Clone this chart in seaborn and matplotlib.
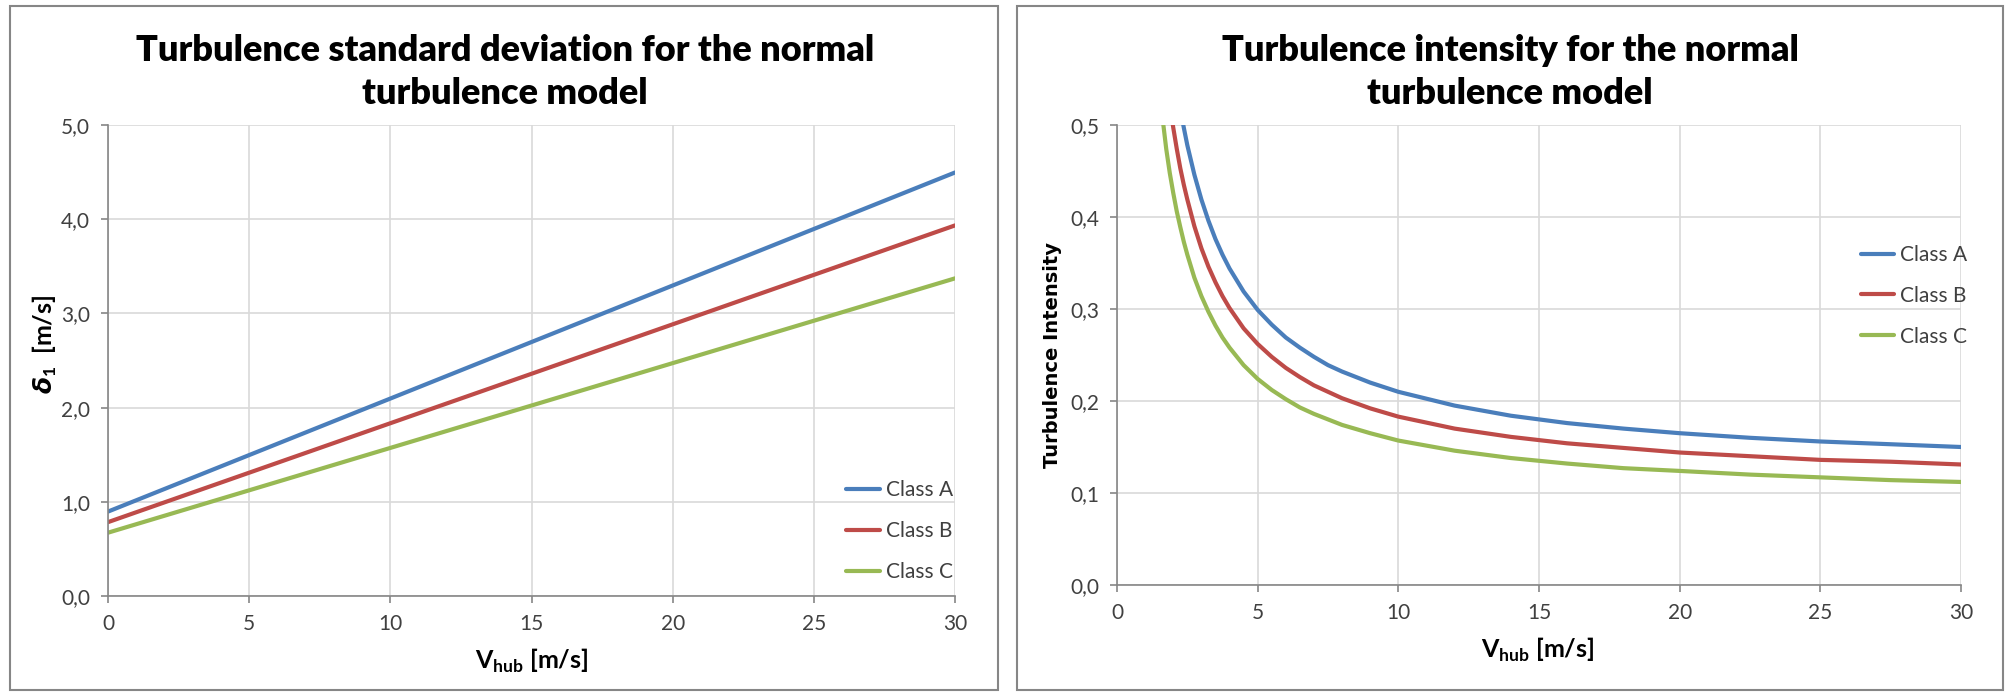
import numpy as np
import pandas as pd
import matplotlib
matplotlib.use("Agg")
import matplotlib.pyplot as plt
import matplotlib.ticker as mticker
from matplotlib.patches import Rectangle
from matplotlib.lines import Line2D
import seaborn as sns

# ─── data ─────────────────────────────────────────────────────────────────────
CLASSES = ["Class A", "Class B", "Class C"]

V_STD = [0, 5, 10, 15, 20, 25, 30]
STD_A = [0.896, 1.496, 2.096, 2.696, 3.296, 3.896, 4.496]
STD_B = [0.784, 1.309, 1.834, 2.359, 2.884, 3.409, 3.934]
STD_C = [0.672, 1.122, 1.572, 2.022, 2.472, 2.922, 3.372]

V_TI = [1.5, 1.75, 1.875, 2, 2.125, 2.25, 2.375, 2.5, 2.75, 3, 3.25, 3.5, 3.75,
        4, 4.5, 5, 5.5, 6, 6.5, 7, 7.5, 8, 9, 10,
        12, 14, 16, 18, 20, 22.5, 25, 27.5, 30]
TI_A = [0.717, 0.632, 0.598, 0.568, 0.542, 0.518, 0.497, 0.478, 0.446, 0.419,
        0.396, 0.376, 0.359, 0.344, 0.319, 0.299, 0.283, 0.269, 0.258, 0.248,
        0.239, 0.232, 0.220, 0.210, 0.195, 0.184, 0.176, 0.170, 0.165, 0.160,
        0.156, 0.153, 0.150]
TI_B = [0.628, 0.553, 0.523, 0.497, 0.474, 0.453, 0.435, 0.419, 0.390, 0.366,
        0.346, 0.329, 0.314, 0.301, 0.279, 0.262, 0.248, 0.236, 0.226, 0.217,
        0.210, 0.203, 0.192, 0.183, 0.170, 0.161, 0.154, 0.149, 0.144, 0.140,
        0.136, 0.134, 0.131]
TI_C = [0.538, 0.474, 0.448, 0.426, 0.406, 0.389, 0.373, 0.359, 0.334, 0.314,
        0.297, 0.282, 0.269, 0.258, 0.239, 0.224, 0.212, 0.202, 0.193, 0.186,
        0.180, 0.174, 0.165, 0.157, 0.146, 0.138, 0.132, 0.127, 0.124, 0.120,
        0.117, 0.114, 0.112]

X_TICKS = [0, 5, 10, 15, 20, 25, 30]
STD_TICKS = [0.0, 1.0, 2.0, 3.0, 4.0, 5.0]
TI_TICKS = [0.0, 0.1, 0.2, 0.3, 0.4, 0.5]

COLORS = ["#4a7ebb", "#be4b48", "#98b954"]
GRID = "#d9d9d9"
SPINE = "#868686"
TEXT = "#404040"

sns.set_theme(style="white")
plt.rcParams["font.family"] = ["Lato", "DejaVu Sans"]
plt.rcParams["mathtext.fontset"] = "custom"
plt.rcParams["mathtext.rm"] = "Lato"
plt.rcParams["mathtext.bf"] = "Lato:bold"
plt.rcParams["mathtext.it"] = "DejaVu Sans:italic:bold"


def long_df(x, series):
    rows = []
    for name, ys in zip(CLASSES, series):
        for xv, yv in zip(x, ys):
            rows.append({"V": xv, "val": yv, "cls": name})
    return pd.DataFrame(rows)


def comma(v, pos):
    return f"{v:.1f}".replace(".", ",")


def style_ax(ax, yticks, ylim):
    ax.set_xlim(0, 30)
    ax.set_ylim(*ylim)
    ax.set_xticks(X_TICKS)
    ax.set_yticks(yticks)
    ax.yaxis.set_major_formatter(mticker.FuncFormatter(comma))
    ax.grid(True, color=GRID, linewidth=1.2)
    ax.set_axisbelow(True)
    for s in ["top", "right"]:
        ax.spines[s].set_visible(False)
    for s in ["left", "bottom"]:
        ax.spines[s].set_color(SPINE)
        ax.spines[s].set_linewidth(1.2)
    ax.tick_params(axis="both", direction="out", length=5, width=1.2, color=SPINE,
                   labelsize=15, labelcolor=TEXT, pad=8, left=True, bottom=True)
    ax.set_xlabel("")
    ax.set_ylabel("")


fig = plt.figure(figsize=(20.07, 6.96), dpi=100)

# panel frames
for x0, w in [(10, 988), (1017, 986)]:
    fig.patches.append(Rectangle((x0 / 2007, 6 / 696), w / 2007, 684 / 696,
                                 transform=fig.transFigure, fill=False,
                                 edgecolor=SPINE, linewidth=1.5))

handles = [Line2D([], [], color=c, linewidth=3) for c in COLORS]
leg_kw = dict(frameon=False, fontsize=15, handlelength=1.6, handletextpad=0.3,
              labelspacing=1.0, labelcolor=TEXT)

# ─── left: standard deviation ────────────────────────────────────────────────
ax1 = fig.add_axes([108 / 2007, 100 / 696, 847 / 2007, 471 / 696])
sns.lineplot(data=long_df(V_STD, [STD_A, STD_B, STD_C]), x="V", y="val",
             hue="cls", palette=COLORS, linewidth=3, ax=ax1, legend=False)
style_ax(ax1, STD_TICKS, (0, 5))
ax1.legend(handles, CLASSES, loc="lower right", bbox_to_anchor=(1.02, -0.01),
           **leg_kw)

fig.text(505 / 2007, 1 - 72 / 696,
         "Turbulence standard deviation for the normal\nturbulence model",
         ha="center", va="center", fontsize=26, fontweight="heavy",
         linespacing=1.4, color="black")
fig.text(532 / 2007, 1 - 661 / 696, r"V$_{\mathbf{hub}}$ [m/s]",
         ha="center", va="center", fontsize=18, fontweight="bold", color="black")
fig.text(45 / 2007, 1 - 344 / 696, r"$\delta_\mathbf{1}$  [m/s]",
         ha="center", va="center", rotation=90, fontsize=18,
         fontweight="bold", color="black")

# ─── right: turbulence intensity ─────────────────────────────────────────────
ax2 = fig.add_axes([1117 / 2007, 111 / 696, 844 / 2007, 460 / 696])
sns.lineplot(data=long_df(V_TI, [TI_A, TI_B, TI_C]), x="V", y="val",
             hue="cls", palette=COLORS, linewidth=3, ax=ax2, legend=False)
style_ax(ax2, TI_TICKS, (0, 0.5))
ax2.legend(handles, CLASSES, loc="upper right", bbox_to_anchor=(1.03, 0.78),
           **leg_kw)

fig.text(1510 / 2007, 1 - 72 / 696,
         "Turbulence intensity for the normal\nturbulence model",
         ha="center", va="center", fontsize=26, fontweight="heavy",
         linespacing=1.4, color="black")
fig.text(1538 / 2007, 1 - 650 / 696, r"V$_{\mathbf{hub}}$ [m/s]",
         ha="center", va="center", fontsize=18, fontweight="bold", color="black")
fig.text(1052 / 2007, 1 - 355 / 696, "Turbulence Intensity",
         family="DejaVu Sans", ha="center", va="center", rotation=90,
         fontsize=14, fontweight="bold", color="black")

fig.savefig("out.png", dpi=100, facecolor="white")
